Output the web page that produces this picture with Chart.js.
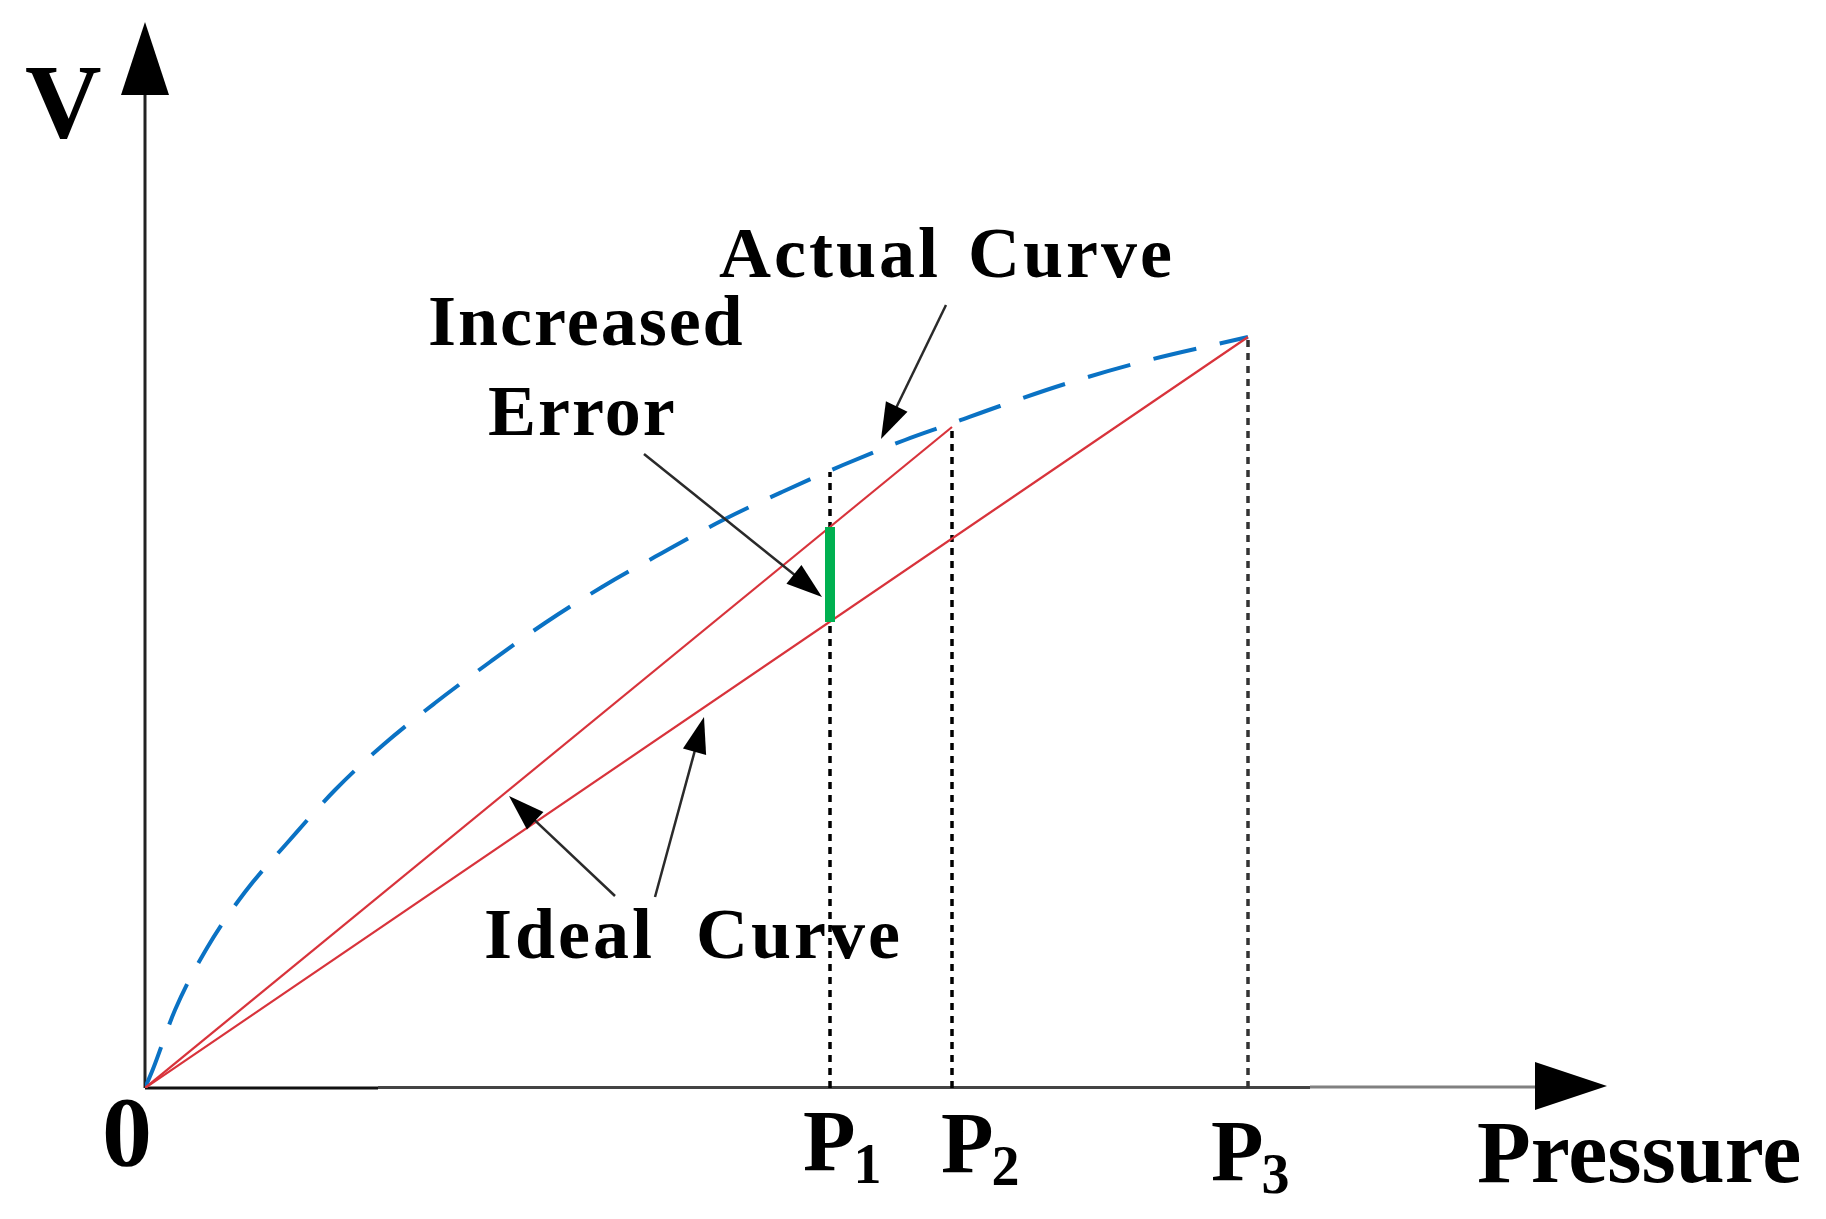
<!DOCTYPE html>
<html lang="en">
<head>
    <meta charset="UTF-8">
    <title>V - Pressure</title>
    <script src="https://cdn.jsdelivr.net/npm/chart.js"></script>
    <style>
        body { margin: 0; background: #fff; }
        #chartBox { width: 1826px; height: 1219px; }
    </style>
</head>
<body>
    <div id="chartBox">
        <canvas id="vpChart" width="1826" height="1219"></canvas>
    </div>

    <script>
        // pressure points (x)
        const P1 = 68.5, P2 = 80.7, P3 = 110.3;

        // actual (dashed blue) curve
        const actualX = [0, 0.8, 3.0, 6.2, 10.0, 14.3, 19.0, 23.8, 29.0, 34.5, 40.0, 45.7, 51.7, 57.8, 63.7, 69.8, 76.0, 80.5, 85.5, 92.0, 100.0, 110.3];
        const actualV = [0, 1.9, 7.8, 14.0, 19.6, 24.6, 29.8, 34.3, 38.5, 42.6, 46.5, 50.1, 53.5, 56.8, 59.6, 62.3, 64.8, 66.4, 68.2, 70.4, 72.7, 75.1];

        // ideal (red) lines: origin to the actual value at P2 and P3
        const idealX1 = [0, P2], idealV1 = [0, 66.1];
        const idealX2 = [0, P3], idealV2 = [0, 75.1];

        // drop lines and the error bar at P1
        const dropX = [P1, P2, P3];
        const dropTop = [61.6, 66.1, 75.1];
        const errorBar = [46.6, 56.1];

        const xMax = 146.2, yMax = 106.6;

        const toPts = (xs, ys) => xs.map((x, i) => ({ x: x, y: ys[i] }));

        const datasets = [
            {
                label: 'error', data: toPts([P1, P1], errorBar),
                borderColor: '#00b050', borderWidth: 10, borderCapStyle: 'butt', order: 0
            },
            {
                label: 'ideal P2', data: toPts(idealX1, idealV1),
                borderColor: '#d8333b', borderWidth: 2.2, order: 1
            },
            {
                label: 'ideal P3', data: toPts(idealX2, idealV2),
                borderColor: '#d8333b', borderWidth: 2.2, order: 1
            },
            {
                label: 'actual', data: toPts(actualX, actualV),
                borderColor: '#0a72c4', borderWidth: 4, borderDash: [44, 24],
                cubicInterpolationMode: 'monotone', order: 2
            }
        ];
        dropX.forEach((x, i) => {
            datasets.push({
                label: 'P' + (i + 1), data: toPts([x, x], [0, dropTop[i]]),
                borderColor: i === 2 ? '#333' : '#000', borderWidth: 3.5,
                borderDash: [7, 6], borderCapStyle: 'butt', order: 3
            });
        });

        // labels and arrows, placed in data units
        const labels = [
            { t: 'V', x: -12.0, y: 95.1, size: 106 },
            { t: '0', x: -4.3, y: -7.7, size: 100 },
            { t: 'Pressure', x: 133.2, y: -9.4, size: 88 },
            { t: 'Actual', x: 57.4, y: 81.1, size: 72, ls: 3 },
            { t: 'Curve', x: 82.3, y: 81.1, size: 72, ls: 3 },
            { t: 'Increased', x: 28.3, y: 74.3, size: 72, ls: 2 },
            { t: 'Error', x: 34.3, y: 65.3, size: 72, ls: 2 },
            { t: 'Ideal', x: 33.9, y: 13.0, size: 72, ls: 3 },
            { t: 'Curve', x: 55.1, y: 13.0, size: 72, ls: 3 }
        ];
        const pLabels = [
            { n: '1', x: 65.8, y: -8.2 },
            { n: '2', x: 79.6, y: -8.4 },
            { n: '3', x: 106.6, y: -9.2 }
        ];
        const arrows = [
            [80.1, 78.3, 73.6, 64.9],
            [49.9, 63.4, 67.7, 49.1],
            [47.0, 19.2, 36.4, 29.2],
            [51.0, 19.1, 55.9, 37.1]
        ];

        function arrowHead(ctx, x1, y1, x2, y2, len, half) {
            const a = Math.atan2(y2 - y1, x2 - x1);
            ctx.beginPath();
            ctx.moveTo(x2, y2);
            ctx.lineTo(x2 - len * Math.cos(a) + half * Math.sin(a), y2 - len * Math.sin(a) - half * Math.cos(a));
            ctx.lineTo(x2 - len * Math.cos(a) - half * Math.sin(a), y2 - len * Math.sin(a) + half * Math.cos(a));
            ctx.closePath();
            ctx.fill();
        }

        const axesPlugin = {
            id: 'axes',
            beforeDatasetsDraw(chart) {
                const ctx = chart.ctx;
                const xs = chart.scales.x, ys = chart.scales.y;
                const x0 = xs.getPixelForValue(0), y0 = ys.getPixelForValue(0);
                const xEnd = xs.getPixelForValue(xMax), yEnd = ys.getPixelForValue(yMax);
                ctx.save();
                ctx.lineWidth = 3;
                // y axis
                ctx.strokeStyle = '#222';
                ctx.beginPath();
                ctx.moveTo(x0, y0);
                ctx.lineTo(x0, yEnd + 70);
                ctx.stroke();
                // x axis (dark near origin, greyer toward the arrow)
                ctx.strokeStyle = '#111';
                ctx.beginPath();
                ctx.moveTo(x0, y0);
                ctx.lineTo(378, y0);
                ctx.stroke();
                ctx.strokeStyle = '#444';
                ctx.beginPath();
                ctx.moveTo(378, y0 - 0.5);
                ctx.lineTo(1310, y0 - 0.5);
                ctx.stroke();
                ctx.strokeStyle = '#808080';
                ctx.beginPath();
                ctx.moveTo(1310, y0 - 1);
                ctx.lineTo(xEnd - 70, y0 - 1);
                ctx.stroke();
                ctx.fillStyle = '#000';
                arrowHead(ctx, x0, y0, x0, yEnd, 73, 24);
                arrowHead(ctx, x0, y0 - 2, xEnd, y0 - 2, 72, 24);
                ctx.restore();
            },
            afterDraw(chart) {
                const ctx = chart.ctx;
                const xs = chart.scales.x, ys = chart.scales.y;
                ctx.save();
                ctx.fillStyle = '#000';
                ctx.textBaseline = 'alphabetic';
                labels.forEach(l => {
                    ctx.font = 'bold ' + l.size + 'px "Liberation Serif", "Times New Roman", serif';
                    ctx.letterSpacing = (l.ls || 0) + 'px';
                    ctx.fillText(l.t, xs.getPixelForValue(l.x), ys.getPixelForValue(l.y));
                });
                ctx.letterSpacing = '0px';
                pLabels.forEach(p => {
                    const px = xs.getPixelForValue(p.x), py = ys.getPixelForValue(p.y);
                    ctx.font = 'bold 86px "Liberation Serif", serif';
                    ctx.fillText('P', px, py);
                    const w = ctx.measureText('P').width;
                    ctx.font = 'bold 56px "Liberation Serif", serif';
                    ctx.fillText(p.n, px + w - 2, py + 13);
                });
                // annotation arrows
                ctx.strokeStyle = '#2a2a2a';
                ctx.fillStyle = '#000';
                ctx.lineWidth = 2.5;
                arrows.forEach(a => {
                    const x1 = xs.getPixelForValue(a[0]), y1 = ys.getPixelForValue(a[1]);
                    const x2 = xs.getPixelForValue(a[2]), y2 = ys.getPixelForValue(a[3]);
                    const ang = Math.atan2(y2 - y1, x2 - x1);
                    ctx.beginPath();
                    ctx.moveTo(x1, y1);
                    ctx.lineTo(x2 - 25 * Math.cos(ang), y2 - 25 * Math.sin(ang));
                    ctx.stroke();
                    arrowHead(ctx, x1, y1, x2, y2, 36, 12);
                });
                ctx.restore();
            }
        };

        new Chart(document.getElementById('vpChart'), {
            type: 'line',
            data: { datasets: datasets },
            options: {
                responsive: false,
                animation: false,
                devicePixelRatio: 1,
                layout: { padding: { left: 145, right: 219, top: 22, bottom: 131 } },
                elements: { point: { radius: 0 }, line: { fill: false } },
                plugins: { legend: { display: false }, tooltip: { enabled: false } },
                scales: {
                    x: { type: 'linear', min: 0, max: xMax, display: false },
                    y: { type: 'linear', min: 0, max: yMax, display: false }
                }
            },
            plugins: [axesPlugin]
        });
    </script>
</body>
</html>
